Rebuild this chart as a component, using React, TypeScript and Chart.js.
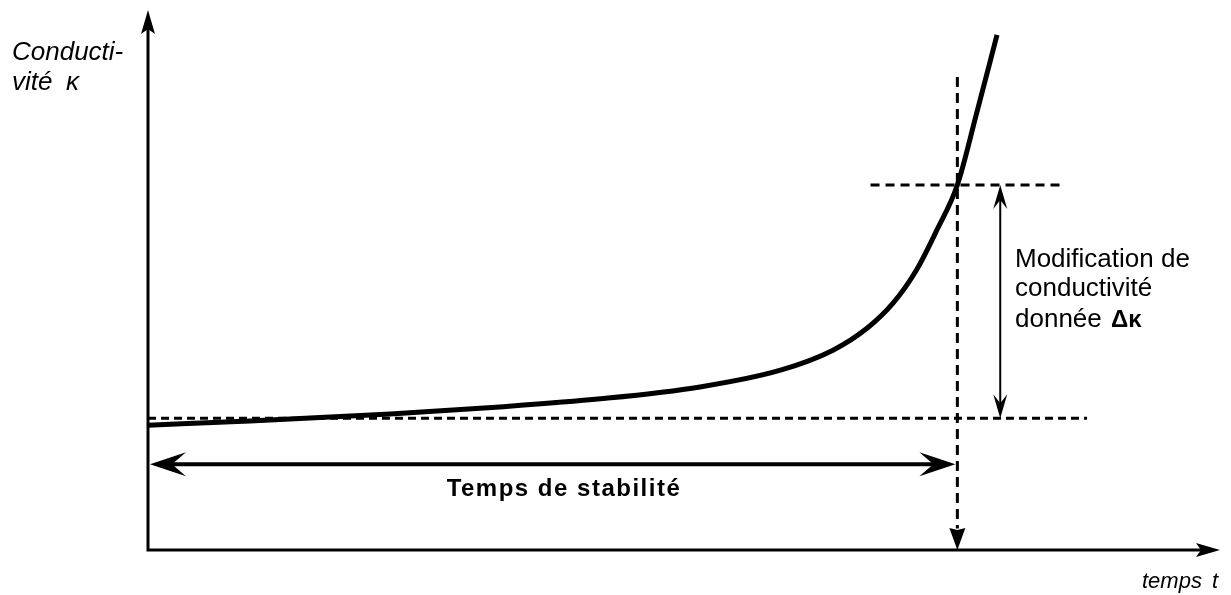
import React, { useEffect, useRef } from "react";
import { Chart, registerables } from "chart.js";

Chart.register(...registerables);

// Curve: conductivity vs time (arbitrary units 0..100)
const curveT = [0, 9.5, 22.6, 32.8, 42.2, 51.5, 59.0, 63.9, 67.1, 69.5, 71.7, 73.6, 75.5, 77.3, 79.2];
const curveK = [23.1, 23.9, 25.2, 26.5, 28.0, 30.2, 33.3, 37.0, 41.1, 45.7, 51.9, 59.3, 67.6, 80.9, 95.4];

// Reference levels / times
const kBase = 24.4;          // initial conductivity level
const kLimit = 67.6;         // conductivity after given change
const tStab = 75.5;          // stability time
const baseLineEnd = 87.6;
const limitLineStart = 67.4;
const limitLineEnd = 85.4;
const tStabLineTop = 87.6;
const deltaArrowT = 79.5;
const stabArrowK = 15.9;

const yAxisLabel = ["Conducti-", "vité"];
const kappa = "κ";
const xAxisLabel = "temps";
const tSymbol = "t";
const stabLabel = "Temps de stabilité";
const deltaLabel = ["Modification de", "conductivité", "donnée"];
const deltaSymbol = "Δκ";

const FONT = '"Liberation Sans", Arial, Helvetica, sans-serif';

function arrowHead(ctx: CanvasRenderingContext2D, x: number, y: number, ang: number, len: number, hw: number, notch: number) {
  const c = Math.cos(ang), s = Math.sin(ang);
  const p1 = [x - len * c + hw * s, y - len * s - hw * c];
  const p2 = [x - (len - notch) * c, y - (len - notch) * s];
  const p3 = [x - len * c - hw * s, y - len * s + hw * c];
  ctx.beginPath();
  ctx.moveTo(x, y);
  ctx.lineTo(p1[0], p1[1]);
  ctx.lineTo(p2[0], p2[1]);
  ctx.lineTo(p3[0], p3[1]);
  ctx.closePath();
  ctx.fill();
}

const overlay = {
  id: "overlay",
  afterDatasetsDraw(chart: any) {
    const ctx: CanvasRenderingContext2D = chart.ctx;
    const xs = chart.scales.x;
    const ys = chart.scales.y;
    const X = (v: number) => xs.getPixelForValue(v);
    const Y = (v: number) => ys.getPixelForValue(v);
    ctx.save();
    ctx.strokeStyle = "#000";
    ctx.fillStyle = "#000";
    ctx.lineCap = "butt";

    // axes
    ctx.lineWidth = 3;
    ctx.beginPath();
    ctx.moveTo(X(0), Y(0) + 1.5);
    ctx.lineTo(X(0), Y(100) + 12);
    ctx.moveTo(X(0) - 1.5, Y(0));
    ctx.lineTo(X(100) - 12, Y(0));
    ctx.stroke();
    arrowHead(ctx, X(0), Y(100), -Math.PI / 2, 24, 7, 5);
    arrowHead(ctx, X(100), Y(0), 0, 24, 7, 5);

    // stability time dashed arrow head
    arrowHead(ctx, X(tStab), Y(0), Math.PI / 2, 22, 8, 2);

    // delta kappa double arrow
    ctx.lineWidth = 2;
    ctx.beginPath();
    ctx.moveTo(X(deltaArrowT), Y(kLimit) + 10);
    ctx.lineTo(X(deltaArrowT), Y(kBase) - 10);
    ctx.stroke();
    arrowHead(ctx, X(deltaArrowT), Y(kLimit), -Math.PI / 2, 24, 7, 9);
    arrowHead(ctx, X(deltaArrowT), Y(kBase), Math.PI / 2, 24, 7, 9);

    // stability double arrow
    ctx.lineWidth = 4;
    ctx.beginPath();
    ctx.moveTo(X(0) + 15, Y(stabArrowK));
    ctx.lineTo(X(tStab) - 15, Y(stabArrowK));
    ctx.stroke();
    arrowHead(ctx, X(0) + 2, Y(stabArrowK), Math.PI, 36, 12, 14);
    arrowHead(ctx, X(tStab) - 2, Y(stabArrowK), 0, 36, 12, 14);

    // texts
    ctx.textBaseline = "alphabetic";
    ctx.textAlign = "left";
    ctx.font = `italic 26px ${FONT}`;
    ctx.fillText(yAxisLabel[0], 12, 60);
    ctx.fillText(yAxisLabel[1], 12, 90);
    ctx.fillText(kappa, 66, 90);

    ctx.font = `italic 22px ${FONT}`;
    ctx.fillText(xAxisLabel, 1142, 588);
    ctx.fillText(tSymbol, 1212, 588);

    ctx.font = `bold 24px ${FONT}`;
    (ctx as any).letterSpacing = "1.5px";
    ctx.textAlign = "center";
    ctx.fillText(stabLabel, X(38.8), 496);
    (ctx as any).letterSpacing = "0px";

    ctx.textAlign = "left";
    ctx.font = `26px ${FONT}`;
    ctx.fillText(deltaLabel[0], 1015, 267);
    ctx.fillText(deltaLabel[1], 1015, 296);
    ctx.fillText(deltaLabel[2], 1015, 327);
    ctx.font = `bold 24px ${FONT}`;
    ctx.fillText(deltaSymbol, 1111, 327);

    ctx.restore();
  },
};

export default function App() {
  const ref = useRef<HTMLCanvasElement>(null);
  useEffect(() => {
    document.body.style.margin = "0";
    const dashed = (pts: { x: number; y: number }[], dash: number[]) => ({
      data: pts,
      borderColor: "#000",
      borderWidth: 3,
      borderDash: dash,
      pointRadius: 0,
      fill: false,
      tension: 0,
      clip: false as any,
    });
    const chart = new Chart(ref.current!, {
      type: "line",
      data: {
        datasets: [
          {
            data: curveT.map((t, i) => ({ x: t, y: curveK[i] })),
            borderColor: "#000",
            borderWidth: 5,
            pointRadius: 0,
            fill: false,
            cubicInterpolationMode: "monotone",
            clip: false as any,
          },
          dashed([{ x: 0, y: kBase }, { x: baseLineEnd, y: kBase }], [8, 5]),
          dashed([{ x: limitLineStart, y: kLimit }, { x: limitLineEnd, y: kLimit }], [9, 6]),
          dashed([{ x: tStab, y: tStabLineTop }, { x: tStab, y: 4 }], [10, 6]),
        ],
      },
      options: {
        animation: false,
        responsive: false,
        layout: { padding: { left: 148, right: 11, top: 10, bottom: 45 } },
        scales: {
          x: { type: "linear", min: 0, max: 100, display: false },
          y: { type: "linear", min: 0, max: 100, display: false },
        },
        plugins: { legend: { display: false }, tooltip: { enabled: false } },
      },
      plugins: [overlay],
    });
    return () => chart.destroy();
  }, []);
  return (
    <div style={{ position: "absolute", left: 0, top: 0, width: 1231, height: 595, background: "#fff" }}>
      <canvas ref={ref} width={1231} height={595} />
    </div>
  );
}
